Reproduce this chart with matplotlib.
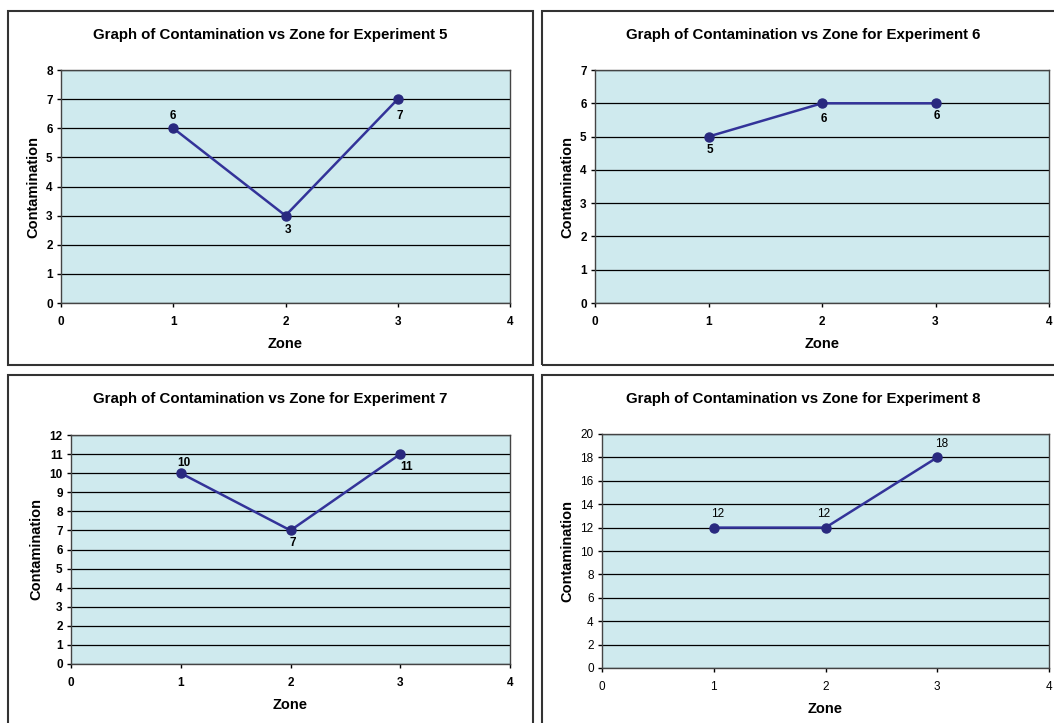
import matplotlib
matplotlib.use("Agg")
import matplotlib.pyplot as plt
from matplotlib.patches import Rectangle

plt.rcParams['font.family'] = ['Liberation Sans', 'DejaVu Sans']

zones = [1, 2, 3]
exp5 = [6, 3, 7]
exp6 = [5, 6, 6]
exp7 = [10, 7, 11]
exp8 = [12, 12, 18]

titles = ["Graph of Contamination vs Zone for Experiment 5",
          "Graph of Contamination vs Zone for Experiment 6",
          "Graph of Contamination vs Zone for Experiment 7",
          "Graph of Contamination vs Zone for Experiment 8"]

W, H = 1054, 723
fig = plt.figure(figsize=(W / 100, H / 100), dpi=100)


def px_box(x0, y0, x1, y1):
    # pixel box (top-left origin) -> figure fraction rect
    return [x0 / W, 1 - y1 / H, (x1 - x0) / W, (y1 - y0) / H]


# panel frames
for (x0, y0, x1, y1) in [(8, 11, 533, 365), (542, 11, 1065, 365),
                         (8, 375, 533, 735), (542, 375, 1065, 735)]:
    r = px_box(x0, y0, x1, y1)
    fig.patches.append(Rectangle((r[0], r[1]), r[2], r[3], transform=fig.transFigure,
                                 fill=False, edgecolor='#333333', linewidth=1.5))

panels = [
    (px_box(61, 70, 510, 303), exp5, 8, 1, True, [(0, 8.6), (2, -10), (1.5, -12)], (270, 35)),
    (px_box(595, 70, 1049, 303), exp6, 7, 1, True, [(1, -9.5), (1, -11), (1, -9.5)], (803, 35)),
    (px_box(71, 435, 510, 664), exp7, 12, 1, True, [(2, 7), (1.5, -9), (4.3, -9.5)], (270, 399)),
    (px_box(602, 434, 1049, 668), exp8, 20, 2, False, [(2.5, 10), (-1.5, 10), (3, 9.5)], (803, 399)),
]

for i, (rect, vals, ymax, ystep, bold, offs, tpos) in enumerate(panels):
    ax = fig.add_axes(rect)
    ax.set_facecolor('#cfeaee')
    ax.plot(zones, vals, color='#333399', linewidth=1.8, marker='o',
            markersize=6.5, markerfacecolor='#29297f', markeredgecolor='#29297f', zorder=3)
    ax.set_xlim(0, 4)
    ax.set_ylim(0, ymax)
    ax.set_xticks(range(0, 5))
    ax.set_yticks(range(0, ymax + 1, ystep))
    ax.yaxis.grid(True, color='black', linewidth=0.9)
    ax.set_axisbelow(True)
    fw = 'bold' if bold else 'normal'
    ax.tick_params(direction='out', length=3, width=1, pad=3, labelsize=8.5)
    for lab in ax.get_xticklabels() + ax.get_yticklabels():
        lab.set_fontweight(fw)
    ax.tick_params(axis='x', pad=6)
    for s in ax.spines.values():
        s.set_color('#444444')
        s.set_linewidth(1.0)
    ax.set_xlabel("Zone", fontsize=10.5, fontweight='bold', labelpad=7)
    ax.set_ylabel("Contamination", fontsize=10.5, fontweight='bold', labelpad=4)
    for x, v, (dx, dy) in zip(zones, vals, offs):
        ax.annotate(str(v), (x, v), xytext=(dx, dy), textcoords='offset points',
                    ha='center', va='center', fontsize=8.5,
                    fontweight=fw, color='black')
    fig.text(tpos[0] / W, 1 - tpos[1] / H, titles[i], ha='center', va='center',
             fontsize=10.8, fontweight='bold')

fig.savefig("out.png", dpi=100)
